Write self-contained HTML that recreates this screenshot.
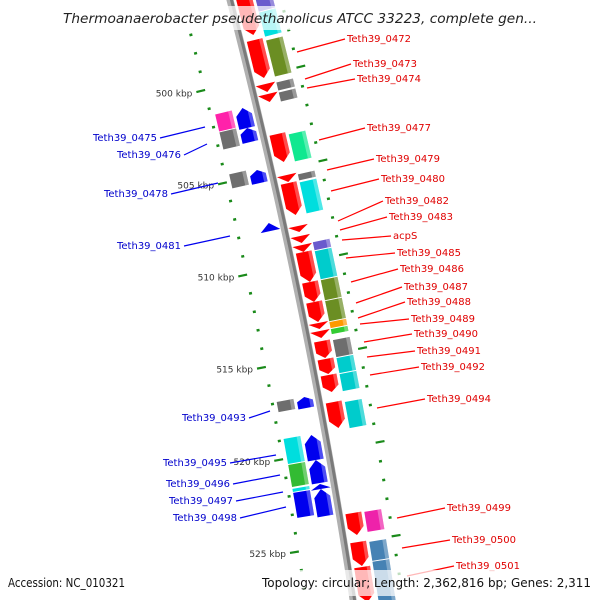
<!DOCTYPE html>
<html><head><meta charset="utf-8"><style>
html,body{margin:0;padding:0;background:#fff;}
svg{display:block;font-family:"DejaVu Sans","Liberation Sans",sans-serif;}
</style></head><body>
<svg id="map" width="600" height="600" viewBox="0 0 600 600" xmlns="http://www.w3.org/2000/svg">
<g id="ruler"></g>
<path id="backbone" fill="none" stroke="#b0b0b0" stroke-width="7"/>
<path id="backbone2" fill="none" stroke="#7a7a7a" stroke-width="3"/>
<g id="features"></g>
<g id="labels" font-size="10"></g>
<rect x="0" y="6" width="600" height="24" fill="#fff" opacity="0.72"/>
<text x="63" y="23" font-size="13" font-style="italic" fill="#222" textLength="474" lengthAdjust="spacingAndGlyphs">Thermoanaerobacter pseudethanolicus ATCC 33223, complete gen...</text>
<rect x="0" y="570" width="600" height="26" fill="#fff" opacity="0.72"/>
<text x="8" y="587" font-size="12.5" fill="#111" textLength="117" lengthAdjust="spacingAndGlyphs">Accession: NC_010321</text>
<text x="262" y="587" font-size="12.5" fill="#111" textLength="329" lengthAdjust="spacingAndGlyphs">Topology: circular; Length: 2,362,816 bp; Genes: 2,311</text>
</svg>
<script>
// ---- data ----
const rightLane1 = [[-5,35,'a'],[40,78,'a'],[84,92,'t'],[94,102,'t'],[134,162,'a'],[175,182,'t'],[183,215,'a'],[226,232,'t'],[236,243,'t'],[245,252,'t'],[252,282,'a'],[282,302,'a'],[302,322,'a'],[323,329,'t'],[331,338,'t'],[341,358,'a'],[359,374,'a'],[375,392,'a'],[402,428,'a'],[513,535,'a'],[542,566,'a'],[567,602,'a']];
const rightLane2 = [[-5,10,'#6a5acd'],[10,35,'#00dede'],[38,75,'#6b8e23'],[80,89,'#6e6e6e'],[90,100,'#6e6e6e'],[132,160,'#10e890'],[172,179,'#6e6e6e'],[180,212,'#00dede'],[240,249,'#6a5acd'],[249,278,'#00cccc'],[278,299,'#6b8e23'],[299,320,'#6b8e23'],[320,327,'#ff9900'],[327,333,'#33cc33'],[338,356,'#6e6e6e'],[356,372,'#00cccc'],[372,390,'#00cccc'],[400,427,'#00cccc'],[510,531,'#ee22aa'],[540,560,'#4682b4'],[560,602,'#4682b4']];
const leftLane1 = [[108,128,'a'],[128,142,'a'],[170,183,'a'],[223,231,'t'],[397,408,'a'],[435,460,'a'],[460,483,'a'],[484,489,'t'],[489,516,'a']];
const leftLane2 = [[112,130,'#ff22aa'],[130,148,'#6e6e6e'],[172,187,'#6e6e6e'],[400,411,'#6e6e6e'],[437,463,'#00dede'],[463,486,'#33bb33'],[487,491,'#00dede'],[491,517,'#0000ee']];
const rulerStart = 497, rulerEnd = 527;
const rightLabels = [['Teth39_0472',347,42,297,52],['Teth39_0473',353,67,305,79],['Teth39_0474',357,82,307,88],['Teth39_0477',367,131,319,140],['Teth39_0479',376,162,327,170],['Teth39_0480',381,182,331,191],['Teth39_0482',385,204,338,221],['Teth39_0483',389,220,340,230],['acpS',393,239,342,240],['Teth39_0485',397,256,346,258],['Teth39_0486',400,272,351,282],['Teth39_0487',404,290,356,303],['Teth39_0488',407,305,358,318],['Teth39_0489',411,322,360,324],['Teth39_0490',414,337,364,342],['Teth39_0491',417,354,367,357],['Teth39_0492',421,370,370,375],['Teth39_0494',427,402,377,408],['Teth39_0499',447,511,397,518],['Teth39_0500',452,543,402,548],['Teth39_0501',456,569,407,576]];
const leftLabels = [['Teth39_0475',157,141,205,127],['Teth39_0476',181,158,207,144],['Teth39_0478',168,197,218,183],['Teth39_0481',181,249,230,236],['Teth39_0493',246,421,270,411],['Teth39_0495',227,466,276,455],['Teth39_0496',230,487,280,475],['Teth39_0497',233,504,283,492],['Teth39_0498',237,521,286,507]];
// ---- geometry ----
const NS='http://www.w3.org/2000/svg';
function axisX(y){return 230+0.2574*y-8.71e-5*y*y;}
function slope(y){return 0.2574-1.742e-4*y;}
function el(tag,attrs,parent){const e=document.createElementNS(NS,tag);for(const k in attrs)e.setAttribute(k,attrs[k]);parent.appendChild(e);return e;}
let d='';for(let y=-10;y<=610;y+=10){d+=(y===-10?'M':'L')+axisX(y).toFixed(2)+' '+y+' ';}
document.getElementById('backbone').setAttribute('d',d);
let d2='';for(let y=-10;y<=610;y+=10){d2+=(y===-10?'M':'L')+(axisX(y)+1.5).toFixed(2)+' '+y+' ';}
document.getElementById('backbone2').setAttribute('d',d2);
function frame(ys,xm,parent){const th=Math.atan(slope(ys));const yc=ys+xm*Math.sin(th);const g=el('g',{transform:`translate(${axisX(yc).toFixed(2)},${yc.toFixed(2)}) rotate(${(-th*180/Math.PI).toFixed(2)})`},parent);return [g,Math.cos(th)];}
const F=document.getElementById('features');
function feature(y1,y2,xa,xb,color,shape,dir,name){
  const xm=(xa+xb)/2;const [g,c]=frame((y1+y2)/2,xm,F);
  
  
  const h=(y2-y1)/c, hh=h/2;
  let pts;
  if(shape==='t'){pts=dir>0?[[xa-2,-hh],[xb+2,-hh],[xm,hh]]:[[xm,-hh],[xb+2,hh],[xa-2,hh]];}
  else if(shape==='a'){const k=Math.min(8,h*0.35);pts=dir>0?[[xa,-hh],[xb,-hh],[xb,hh-k],[xm,hh],[xa,hh-k]]:[[xm,-hh],[xb,-hh+k],[xb,hh],[xa,hh],[xa,-hh+k]];}
  else{pts=[[xa,-hh+0.5],[xb,-hh+0.5],[xb,hh-0.5],[xa,hh-0.5]];}
  el('polygon',{points:pts.map(p=>p.join(',')).join(' '),fill:color},g);
  if(shape!=='t'){const w=(xb-xa)*0.22;el('polygon',{points:pts.map(p=>[Math.max(p[0],xb-w),p[1]].join(',')).join(' '),fill:'#fff',opacity:0.3},g);}
}
rightLane1.forEach(f=>feature(f[0],f[1],6,22,'#ff0000',f[2],1,'forward-gene'));
rightLane2.forEach(f=>feature(f[0],f[1],25,42,f[2],'r',1,'cog-category'));
leftLane1.forEach(f=>feature(f[0],f[1],-22,-6,'#0000ee',f[2],-1,'reverse-gene'));
leftLane2.forEach(f=>feature(f[0],f[1],-42,-25,f[2],'r',-1,'cog-category'));
// ruler
const R=document.getElementById('ruler');
for(let k=rulerStart;k<=rulerEnd;k++){
  const ya=79+(k-500)*18.6;const th=Math.atan(slope(ya));
  const g=el('g',{transform:`translate(${axisX(ya).toFixed(2)},${ya.toFixed(2)}) rotate(${(-th*180/Math.PI).toFixed(2)})`},R);
  
  
  const major=k%5===0;
  el('rect',{x:major?-55:-48,y:-1,width:major?9:3,height:major?2.2:2.5,fill:'#1a8a1a'},g);
  el('rect',{x:48,y:-1,width:major?9:3,height:major?2.2:2.5,fill:'#1a8a1a'},g);
  if(major){const sx=axisX(ya)-56*Math.cos(th), sy=ya+56*Math.sin(th);
    const t=el('text',{x:(sx-3).toFixed(1),y:(sy+4).toFixed(1),'font-size':9,fill:'#333','text-anchor':'end'},R);
    
    
    t.textContent=k+' kbp';}
}
// labels
const L=document.getElementById('labels');
rightLabels.forEach(l=>{
  const ln=el('line',{x1:l[3],y1:l[4],x2:l[1]-2,y2:l[2]-3,stroke:'#ff0000','stroke-width':1.2},L);
  
  
  const t=el('text',{x:l[1],y:l[2],fill:'#e00000'},L);
  
  
  t.textContent=l[0];});
leftLabels.forEach(l=>{
  const ln=el('line',{x1:l[1]+3,y1:l[2]-3,x2:l[3],y2:l[4],stroke:'#0000ee','stroke-width':1.2},L);
  
  
  const t=el('text',{x:l[1],y:l[2],fill:'#0000cc','text-anchor':'end'},L);
  
  
  t.textContent=l[0];});
</script>
</body></html>
